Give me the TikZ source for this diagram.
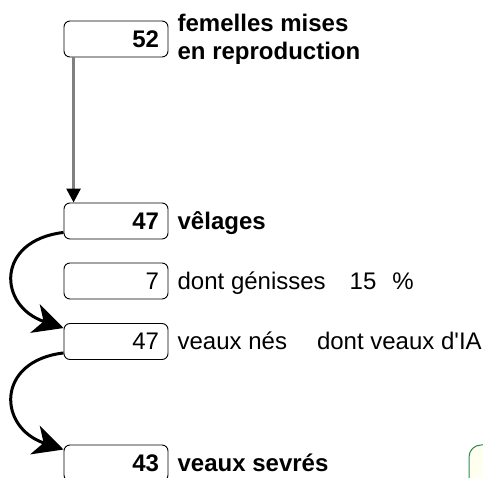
\documentclass[tikz,border=0pt]{standalone}
\usepackage{fontspec}
\setmainfont{Liberation Sans}
\usepackage[]{xcolor}
\usetikzlibrary{positioning}
\usetikzlibrary{arrows.meta}
\definecolor{vertbord}{RGB}{46,139,87}
\definecolor{fondclair}{RGB}{255,255,240}

\begin{document}
\begin{tikzpicture}[x=1pt,y=-1pt,
    boite/.style={draw,rounded corners=6pt,line width=0.9pt,minimum width=104pt,minimum height=36pt,
        text width=86pt,align=right,inner xsep=9pt,inner ysep=0pt,font=\fontsize{24}{28}\selectfont},
    etiq/.style={inner sep=0pt,align=left,font=\fontsize{24}{28}\selectfont},
    courbe/.style={line width=3pt,-{Stealth[length=30pt,width=30pt,inset=9pt]}}]
            \useasboundingbox (0,0) rectangle (483,478);
            \clip (0,0) rectangle (483,478);
            \node[boite] (b52) at (116,39) {\textbf{52}};
            \node[boite] (b47v) at (116,221) {\textbf{47}};
            \node[boite] (b7) at (116,281) {7};
            \node[boite] (b47n) at (116,341.5) {47};
            \node[boite] (b43) at (116,463) {\textbf{43}};
            \node[etiq,right=9pt of b52] (femelles) {\bfseries femelles mises\\\bfseries en reproduction};
            \node[etiq,base right=9pt of b47v] (velages) {\textbf{vêlages}};
            \node[etiq,base right=9pt of b7] (genisses) {dont génisses\hspace{24pt}15\hspace{16pt}\%};
            \node[etiq,base right=9pt of b47n] (nes) {veaux nés\hspace{30pt}dont veaux d\textquotesingle IA};
            \node[etiq,base right=9pt of b43] (sevres) {\textbf{veaux sevrés}};
            \draw[gray,line width=2.6pt,-{Triangle[length=14pt,width=14pt,color=black]}]
            ([xshift=10pt]b52.south west) -- ([xshift=10pt]b47v.north west);
            \draw[courbe] ([yshift=7pt]b47v.south west) .. controls +(-68,8) and +(-66,-22) .. ([yshift=-5pt]b47n.north west);
            \draw[courbe] ([yshift=7pt]b47n.south west) .. controls +(-68,8) and +(-66,-22) .. ([yshift=-5pt]b43.north west);
            \draw[vertbord,fill=fondclair,line width=1pt,rounded corners=12pt] (469,445) rectangle (520,500);
        \end{tikzpicture}
\end{document}
